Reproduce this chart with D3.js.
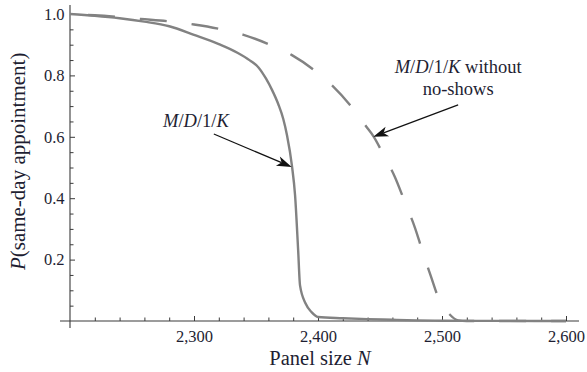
<!DOCTYPE html>
<html>
<head>
<meta charset="utf-8">
<script src="https://cdn.jsdelivr.net/npm/d3@7/dist/d3.min.js"></script>
<style>
  html, body { margin: 0; padding: 0; background: #fff; }
  svg { display: block; }
</style>
</head>
<body>
<svg id="chart" width="587" height="372"></svg>
<script>
// Probability of a same-day appointment versus panel size N
const panelSizeMM = [2200, 2220, 2240, 2260, 2280, 2300, 2320, 2335, 2345, 2352, 2358, 2363,
  2368, 2372, 2375, 2379, 2381.5, 2384, 2385.5, 2390, 2395, 2400, 2420, 2440, 2460, 2480, 2500, 2550, 2600];
const probMM = [1.000, 0.994, 0.986, 0.975, 0.960, 0.932, 0.902, 0.874, 0.849, 0.826, 0.790, 0.752,
  0.706, 0.658, 0.605, 0.505, 0.410, 0.230, 0.116, 0.057, 0.028, 0.013, 0.009, 0.006, 0.004, 0.002, 0.001, 0.0003, 0.0];

const panelSizeNoShow = [2200, 2220, 2240, 2257, 2280, 2300, 2320, 2340, 2360, 2379, 2396, 2411,
  2426, 2439, 2445, 2453, 2462, 2470, 2478, 2484, 2491, 2498, 2506, 2513, 2520, 2600];
const probNoShow = [1.000, 0.996, 0.990, 0.984, 0.976, 0.966, 0.952, 0.932, 0.902, 0.866, 0.820, 0.769,
  0.703, 0.633, 0.600, 0.540, 0.469, 0.388, 0.306, 0.231, 0.146, 0.067, 0.022, 0.002, 0.0, 0.0];

const xTickLabels = [2300, 2400, 2500, 2600];
const yTickLabels = [0.2, 0.4, 0.6, 0.8, 1.0];

// Annotation anchors (data units): label position, arrow tail, arrow tip
const annoMM = { label: [2301.5, 0.633], tail: [2316, 0.609], tip: [2378.8, 0.502] };
const annoNoShow = { label: [2513, 0.809], label2: [2513, 0.736], tail: [2513, 0.704], tip: [2444.6, 0.600] };

const svg = d3.select("#chart");
const x = d3.scaleLinear().domain([2200, 2600]).range([70, 566]);
const y = d3.scaleLinear().domain([0, 1]).range([321, 14]);

const axisColor = "#3a3a3a";
const curveColor = "#828282";
const textColor = "#1e1e32";
const serif = "Liberation Serif";

// Axis lines
svg.append("line").attr("x1", x(2200) - 10).attr("x2", x(2600) + 13)
  .attr("y1", y(0)).attr("y2", y(0)).attr("stroke", axisColor).attr("stroke-width", 1.1);
svg.append("line").attr("x1", x(2200)).attr("x2", x(2200))
  .attr("y1", y(1) - 9).attr("y2", y(0) + 7).attr("stroke", axisColor).attr("stroke-width", 1.1);

// Minor ticks
const xMinor = d3.range(2220, 2601, 20).filter(v => v % 100 !== 0);
const yMinor = d3.range(1, 20).map(i => i * 0.05).filter(v => Math.abs(v * 5 - Math.round(v * 5)) > 1e-6);

svg.append("g").attr("transform", `translate(0,${y(0)})`)
  .call(d3.axisBottom(x).tickValues(xMinor).tickSize(-3.5).tickFormat(""))
  .call(g => g.select(".domain").remove())
  .call(g => g.selectAll("line").attr("stroke", axisColor));
svg.append("g").attr("transform", `translate(${x(2200)},0)`)
  .call(d3.axisLeft(y).tickValues(yMinor).tickSize(-3.5).tickFormat(""))
  .call(g => g.select(".domain").remove())
  .call(g => g.selectAll("line").attr("stroke", axisColor));

// Major ticks with labels
svg.append("g").attr("transform", `translate(0,${y(0)})`)
  .call(d3.axisBottom(x).tickValues(xTickLabels).tickSize(-5).tickPadding(9.5).tickFormat(d3.format(",")))
  .call(g => g.attr("font-family", serif).attr("font-size", 16.5))
  .call(g => g.select(".domain").remove())
  .call(g => g.selectAll("line").attr("stroke", axisColor));
svg.append("g").attr("transform", `translate(${x(2200)},0)`)
  .call(d3.axisLeft(y).tickValues(yTickLabels).tickSize(-5).tickPadding(5.5).tickFormat(d3.format(".1f")))
  .call(g => g.attr("font-family", serif).attr("font-size", 16.5))
  .call(g => g.select(".domain").remove())
  .call(g => g.selectAll("line").attr("stroke", axisColor));

// Curves
const line = d3.line().x(d => x(d[0])).y(d => y(d[1])).curve(d3.curveMonotoneX);
svg.append("path").datum(d3.zip(panelSizeNoShow, probNoShow))
  .attr("d", line).attr("fill", "none").attr("stroke", curveColor)
  .attr("stroke-width", 2.4).attr("stroke-dasharray", "27 25").attr("stroke-dashoffset", 34);
svg.append("path").datum(d3.zip(panelSizeMM, probMM))
  .attr("d", line).attr("fill", "none").attr("stroke", curveColor).attr("stroke-width", 2.4);

// Axis titles
const xTitle = svg.append("text").attr("x", (x(2200) + x(2600)) / 2 + 2).attr("y", 365)
  .attr("text-anchor", "middle").attr("font-size", 20.5);
xTitle.append("tspan").text("Panel size ");
xTitle.append("tspan").attr("font-style", "italic").text("N");

const yTitle = svg.append("text").attr("transform", `translate(25,${y(0.52)}) rotate(-90)`)
  .attr("text-anchor", "middle").attr("font-size", 21);
yTitle.append("tspan").attr("font-style", "italic").text("P");
yTitle.append("tspan").text("(same-day appointment)");

// Queue labels
function queueLabel(sel, suffix) {
  sel.append("tspan").attr("font-style", "italic").text("M");
  sel.append("tspan").text("/");
  sel.append("tspan").attr("font-style", "italic").text("D");
  sel.append("tspan").text("/1/");
  sel.append("tspan").attr("font-style", "italic").text("K");
  if (suffix) sel.append("tspan").text(suffix);
}
const lab1 = svg.append("text").attr("x", x(annoMM.label[0])).attr("y", y(annoMM.label[1]))
  .attr("text-anchor", "middle").attr("font-size", 18.5);
queueLabel(lab1, "");
const lab2 = svg.append("text").attr("x", x(annoNoShow.label[0])).attr("y", y(annoNoShow.label[1]))
  .attr("text-anchor", "middle").attr("font-size", 18.5);
queueLabel(lab2, " without");
svg.append("text").attr("x", x(annoNoShow.label2[0])).attr("y", y(annoNoShow.label2[1]))
  .attr("text-anchor", "middle").attr("font-size", 18.5).text("no-shows");

// Arrows
function arrow(a) {
  const x1 = x(a.tail[0]), y1 = y(a.tail[1]), x2 = x(a.tip[0]), y2 = y(a.tip[1]);
  const ang = Math.atan2(y2 - y1, x2 - x1);
  const len = 15, half = 5, back = 11;
  const ux = Math.cos(ang), uy = Math.sin(ang), px = -uy, py = ux;
  svg.append("line").attr("x1", x1).attr("y1", y1)
    .attr("x2", x2 - ux * back).attr("y2", y2 - uy * back)
    .attr("stroke", "#111").attr("stroke-width", 1.2);
  const p = [
    [x2, y2],
    [x2 - ux * len + px * half, y2 - uy * len + py * half],
    [x2 - ux * back, y2 - uy * back],
    [x2 - ux * len - px * half, y2 - uy * len - py * half]
  ];
  svg.append("path").attr("d", "M" + p.map(q => q.join(",")).join("L") + "Z").attr("fill", "#111");
}
arrow(annoMM);
arrow(annoNoShow);

// Serif type throughout
svg.selectAll("text").attr("font-family", serif).attr("fill", textColor);
</script>
</body>
</html>
